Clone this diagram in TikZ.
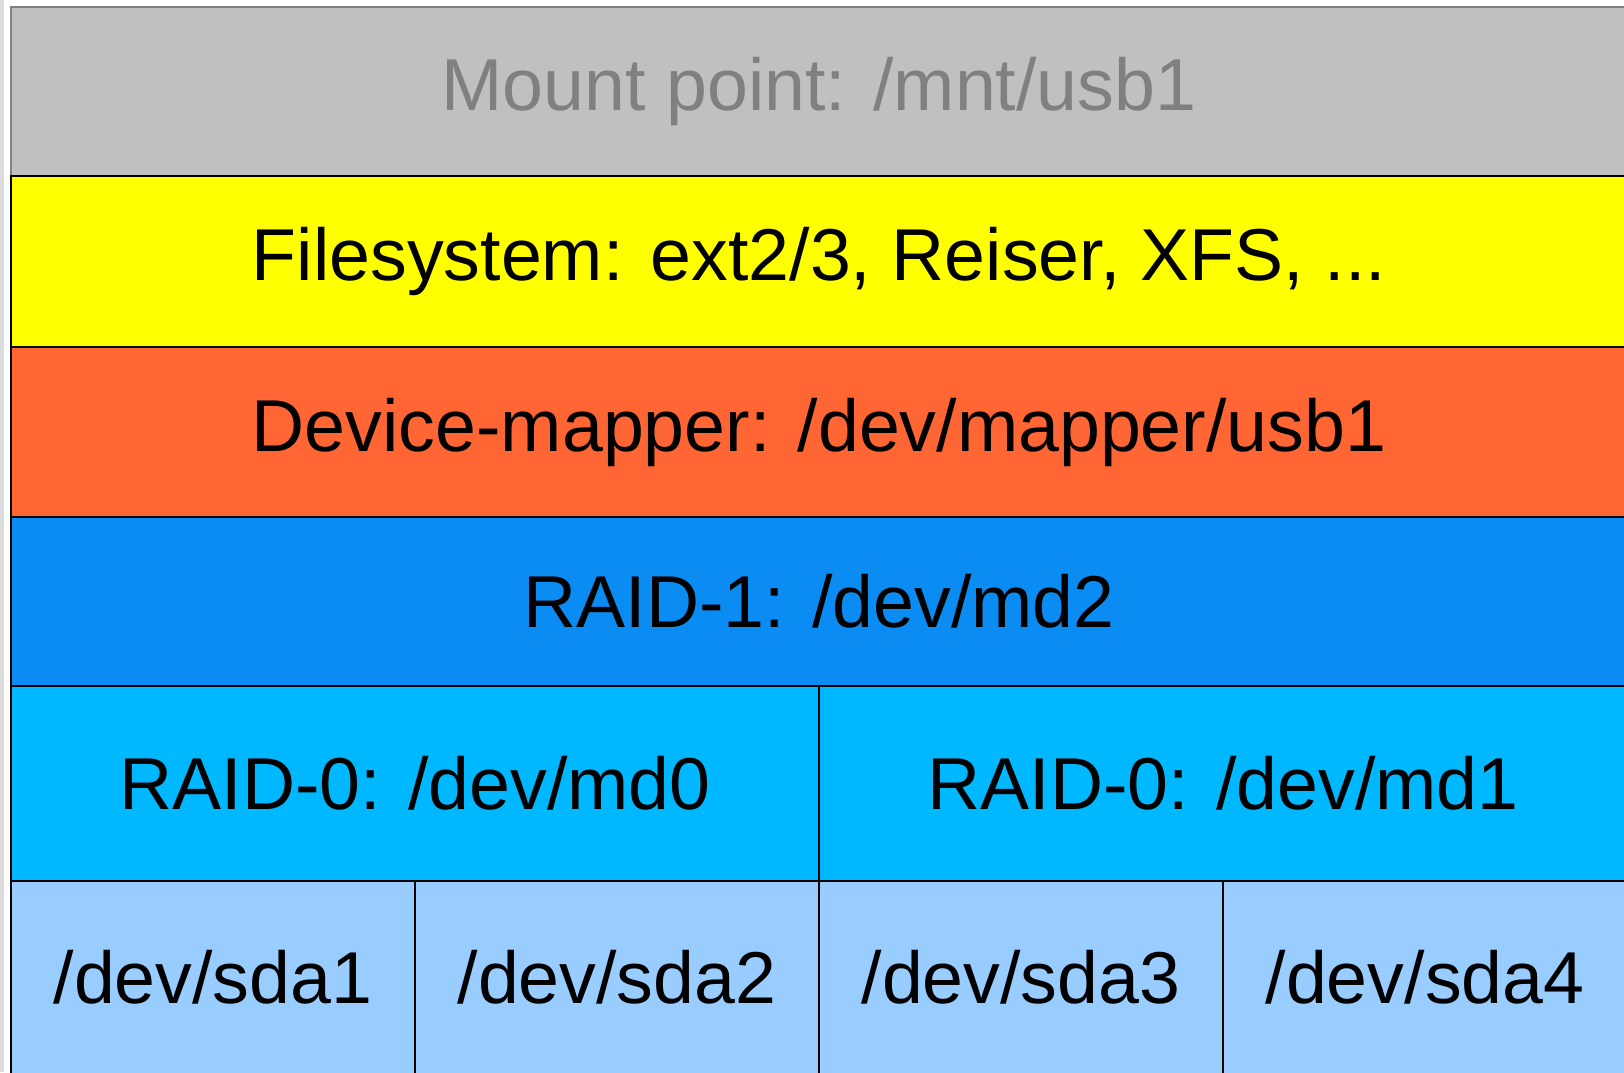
\documentclass[tikz,border=0pt]{standalone}
\usepackage{fontspec}
\setmainfont{Liberation Sans}
\definecolor{mountgray}{HTML}{C0C0C0}
\definecolor{mounttext}{HTML}{808080}
\definecolor{fsyellow}{HTML}{FFFF00}
\definecolor{dmorange}{HTML}{FF6633}
\definecolor{raidone}{HTML}{0A8CF2}
\definecolor{raidzero}{HTML}{00B8FF}
\definecolor{partblue}{HTML}{99CCFF}
\definecolor{stripgray}{HTML}{DCDCDC}
\begin{document}
\begin{tikzpicture}[x=1pt,y=-1pt,
  labelfont/.style={font=\fontsize{73.5}{88}\selectfont},
  layer/.style={rectangle,draw=black,line width=1.5pt,inner sep=0pt,outer sep=0pt,
    anchor=north west,labelfont,text=black},
]
\useasboundingbox (0,0) rectangle (1624,1072);
\clip (0,0) rectangle (1624,1072);
\fill[white] (0,0) rectangle (1624,1072);
\fill[stripgray] (0,0) rectangle (4,1072);
% stack of layers, top to bottom
\node[layer,draw=mounttext,fill=mountgray,text=mounttext,minimum width=1616pt,minimum height=169pt]
  (mount) at (11,7) {Mount point: /mnt/usb1};
\node[layer,fill=fsyellow,minimum width=1616pt,minimum height=171pt]
  (fs) at (11,176) {Filesystem: ext2/3, Reiser, XFS, ...};
\node[layer,fill=dmorange,minimum width=1616pt,minimum height=170pt]
  (dm) at (11,347) {Device-mapper: /dev/mapper/usb1};
\node[layer,fill=raidone,minimum width=1616pt,minimum height=169pt]
  (md2) at (11,517) {RAID-1: /dev/md2};
\node[layer,fill=raidzero,minimum width=808pt,minimum height=195pt]
  (md0) at (11,686) {RAID-0: /dev/md0};
\node[layer,fill=raidzero,minimum width=808pt,minimum height=195pt]
  (md1) at (819,686) {RAID-0: /dev/md1};
\node[layer,fill=partblue,minimum width=404pt,minimum height=200pt]
  (sda1) at (11,881) {};
\node[layer,fill=partblue,minimum width=404pt,minimum height=200pt]
  (sda2) at (415,881) {};
\node[layer,fill=partblue,minimum width=404pt,minimum height=200pt]
  (sda3) at (819,881) {};
\node[layer,fill=partblue,minimum width=404pt,minimum height=200pt]
  (sda4) at (1223,881) {};
% partition labels, centred in the visible part of each cell
\path[every node/.style={labelfont,text=black}]
  (213,977) node (t1) {/dev/sda1}
  (617,977) node (t2) {/dev/sda2}
  (1021,977) node (t3) {/dev/sda3}
  (1425,977) node (t4) {/dev/sda4};
\end{tikzpicture}
\end{document}
